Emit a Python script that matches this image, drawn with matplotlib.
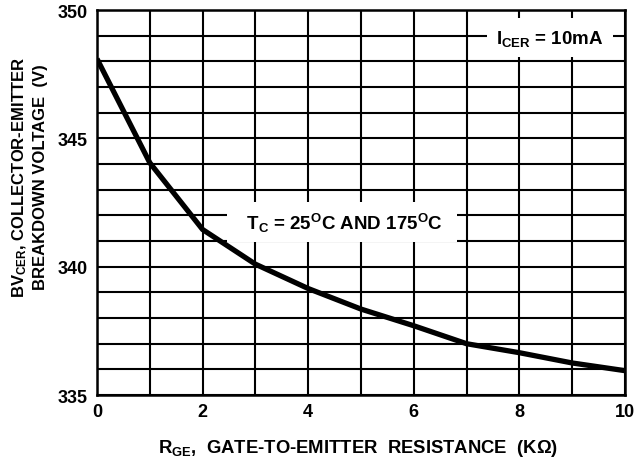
import matplotlib
matplotlib.use('Agg')
import matplotlib.pyplot as plt
from matplotlib.ticker import MultipleLocator

plt.rcParams['font.family'] = ['Liberation Sans', 'DejaVu Sans']
plt.rcParams['font.weight'] = 'bold'
plt.rcParams['mathtext.fontset'] = 'custom'
plt.rcParams['mathtext.rm'] = 'Liberation Sans:bold'
plt.rcParams['mathtext.bf'] = 'Liberation Sans:bold'
plt.rcParams['mathtext.it'] = 'Liberation Sans:bold'
plt.rcParams['mathtext.default'] = 'bf'

# data
r_ge = [0, 1, 2, 3, 4, 5, 6, 7, 8, 9, 10]
bv_cer = [348.1, 344.05, 341.45, 340.1, 339.15, 338.35, 337.7, 337.0, 336.65, 336.25, 335.95]

x_ticks = [0, 2, 4, 6, 8, 10]
y_ticks = [335, 340, 345, 350]

fig = plt.figure(figsize=(6.36, 4.6), dpi=100)
ax = fig.add_axes([0.1525, 0.139, 0.8302, 0.837])

ax.plot(r_ge, bv_cer, color='black', linewidth=3.8, solid_joinstyle='round',
        solid_capstyle='butt', zorder=5, clip_on=True)

ax.set_xlim(0, 10)
ax.set_ylim(335, 350)
ax.set_xticks(x_ticks)
ax.set_yticks(y_ticks)
ax.xaxis.set_minor_locator(MultipleLocator(1))
ax.yaxis.set_minor_locator(MultipleLocator(1))
ax.grid(which='both', color='black', linewidth=1.5)
ax.tick_params(which='both', length=0)
ax.tick_params(axis='x', pad=6, labelsize=13)
ax.tick_params(axis='y', pad=7, labelsize=13)
for s in ax.spines.values():
    s.set_linewidth(1.8)
ax.set_axisbelow(True)

ax.text(4.64, 341.73, '  T$_{C}$ = 25$^{O}$C AND 175$^{O}$C  ', fontsize=13.5,
        ha='center', va='center', zorder=4,
        bbox=dict(boxstyle='square,pad=0.45', facecolor='white', edgecolor='none'))
ax.text(8.58, 348.93, 'I$_{CER}$ = 10mA', fontsize=13.5,
        ha='center', va='center', zorder=4,
        bbox=dict(boxstyle='square,pad=0.5', facecolor='white', edgecolor='none'))

fig.text(0.046, 0.615, 'BV$_{CER}$, COLLECTOR-EMITTER\nBREAKDOWN VOLTAGE  (V)',
         rotation=90, ha='center', va='center', fontsize=12, linespacing=1.3,
         multialignment='center')
fig.text(0.563, 0.026, 'R$_{GE}$,  GATE-TO-EMITTER  RESISTANCE  (KΩ)',
         ha='center', va='center', fontsize=13.3)

fig.savefig('out.png', dpi=100)
